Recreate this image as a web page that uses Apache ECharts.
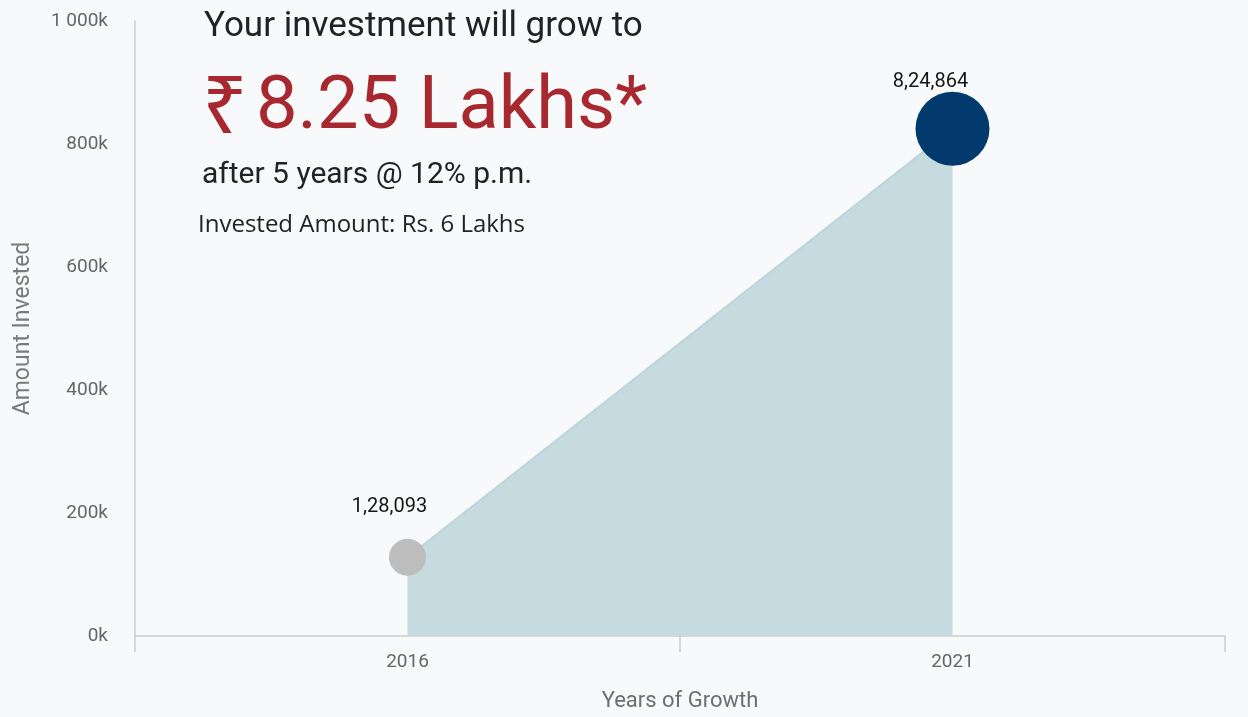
<!DOCTYPE html>
<html>
<head>
<meta charset="utf-8">
<script src="https://cdn.jsdelivr.net/npm/echarts@6/dist/echarts.min.js"></script>
<style>
html,body{margin:0;padding:0;background:#f8f9fb;}
#c{width:1248px;height:717px;}
</style>
</head>
<body>
<div id="c"></div>
<script>
const years = ['2016', '2021'];
const values = [128093, 824864];
const pointColors = ['#bdbdbd', '#023a6e'];
const pointSizes = [37, 74];
const yTicks = [0, 200000, 400000, 600000, 800000, 1000000];

function indianFormat(n) {
  const s = String(Math.round(n));
  if (s.length <= 3) return s;
  const last3 = s.slice(-3);
  let rest = s.slice(0, -3);
  const parts = [];
  while (rest.length > 2) { parts.unshift(rest.slice(-2)); rest = rest.slice(0, -2); }
  if (rest) parts.unshift(rest);
  return parts.join(',') + ',' + last3;
}
function kFormat(v) {
  const k = v / 1000;
  return String(k).replace(/\B(?=(\d{3})+(?!\d))/g, ' ') + 'k';
}

const labelOffsets = [[-18, -16], [-22, 6]];

const chart = echarts.init(document.getElementById('c'));
chart.setOption({
  backgroundColor: '#f8f9fb',
  animation: false,
  grid: { left: 135, right: 23, top: 21, bottom: 81 },
  graphic: [
    { type: 'text', left: 204, top: 10, style: { text: 'Your investment will grow to', font: '35px Roboto, "Noto Sans", sans-serif', fill: '#222' } },
    { type: 'text', left: 202, top: 70, style: { text: '₹', font: '80px "Noto Sans", "DejaVu Sans", sans-serif', fill: '#a7282e' } },
    { type: 'text', left: 256, top: 72, style: { text: '8.25 Lakhs*', font: '74px Roboto, "Noto Sans", sans-serif', fill: '#a7282e' } },
    { type: 'text', left: 202, top: 160, style: { text: 'after 5 years @ 12% p.m.', font: '30px Roboto, "Noto Sans", sans-serif', fill: '#222' } },
    { type: 'text', left: 198, top: 213, style: { text: 'Invested Amount: Rs. 6 Lakhs', font: '24px "Open Sans", "Noto Sans", sans-serif', fill: '#222' } }
  ],
  xAxis: {
    type: 'category',
    data: years,
    boundaryGap: true,
    name: 'Years of Growth',
    nameLocation: 'middle',
    nameGap: 54,
    nameTextStyle: { color: '#6e6e6e', fontSize: 22, fontFamily: 'Roboto' },
    axisLine: { lineStyle: { color: '#cccccc', width: 1.5 } },
    axisTick: { show: true, length: 16, lineStyle: { color: '#cccccc', width: 1.5 } },
    axisLabel: { color: '#666', fontSize: 19, margin: 17, fontFamily: 'Roboto' },
    splitLine: { show: false }
  },
  yAxis: {
    type: 'value',
    min: 0,
    max: 1000000,
    interval: 200000,
    name: 'Amount Invested',
    nameLocation: 'middle',
    nameGap: 100,
    nameRotate: 90,
    nameTextStyle: { color: '#7a7a7a', fontSize: 23, fontFamily: 'Roboto' },
    axisLine: { show: true, lineStyle: { color: '#cccccc', width: 1.5 } },
    axisTick: { show: false },
    axisLabel: { color: '#666', fontSize: 19, margin: 27, fontFamily: 'Roboto', formatter: kFormat },
    splitLine: { show: false }
  },
  series: [{
    type: 'line',
    data: values.map((v, i) => ({
      value: v,
      symbolSize: pointSizes[i],
      itemStyle: { color: pointColors[i] },
      label: { offset: labelOffsets[i] }
    })),
    symbol: 'circle',
    lineStyle: { color: '#bcd5db', width: 2 },
    areaStyle: { color: '#c5dbe0', opacity: 1 },
    label: {
      show: true,
      position: 'top',
      distance: 6,
      color: '#151515',
      fontSize: 20,
      fontFamily: 'Roboto',
      formatter: p => indianFormat(p.value)
    },
    z: 3
  }]
});
</script>
</body>
</html>
